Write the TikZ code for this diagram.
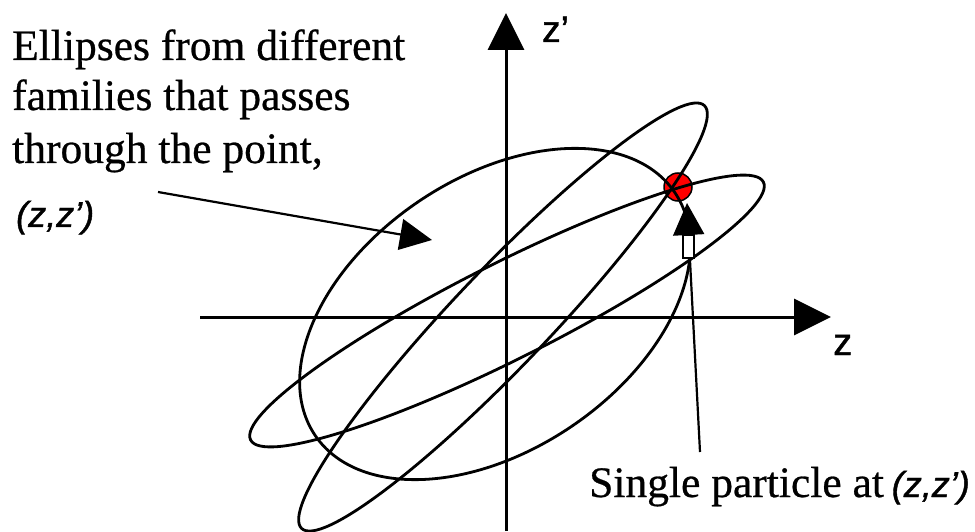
\documentclass[tikz,border=0pt]{standalone}
\usepackage{fontspec}
\setmainfont[FakeBold=0.6]{Liberation Serif}
\newfontfamily\axisfont[FakeBold=1.2]{Liberation Sans}
\usetikzlibrary{arrows.meta}
\tikzset{
  axisline/.style={line width=3pt, -{Triangle[length=37pt,width=36pt]}},
  orbit/.style={line width=2.8pt},
  pointer/.style={line width=2.2pt, -{Triangle[length=32pt,width=31pt]}},
  bodytext/.style={anchor=base west, inner sep=0pt, font=\fontsize{43.5}{51.5}\selectfont},
  coordtext/.style={anchor=base west, inner sep=0pt, font=\axisfont\itshape\fontsize{36}{40}\selectfont},
  axlabel/.style={inner sep=0pt, font=\axisfont\fontsize{38}{40}\selectfont}
}
\begin{document}
\begin{tikzpicture}[x=1pt,y=1pt]
\useasboundingbox (0,0) rectangle (975,531);
% axes
\coordinate (zl) at (200,214);
\coordinate (zr) at (831,214);
\coordinate (vb) at (506,0);
\coordinate (vt) at (506,518);
\draw[axisline] (zl) -- (zr);
\draw[axisline] (vb) -- (vt);
\node[axlabel, anchor=base west] (zlab) at (833,176) {z};
\node[axlabel, anchor=base west, font=\axisfont\fontsize{37}{40}\selectfont] (zplab) at (542,489) {z’};
% particle
\node[circle, fill=red, draw=black, line width=1.5pt, minimum size=28pt, inner sep=0pt] (particle) at (678,344) {};
% ellipses
\draw[orbit, rotate around={34:(495,217)}] (495,217) ellipse [x radius=217, y radius=136];
\draw[orbit, rotate around={46.4:(503,214)}] (503,214) ellipse [x radius=292, y radius=48];
\draw[orbit, rotate around={26.7:(507,220)}] (507,220) ellipse [x radius=287, y radius=48];
% texts
\node[bodytext] (t1) at (12,471) {Ellipses from different};
\node[bodytext] (t2) at (12,421) {families that passes};
\node[bodytext] (t3) at (12,368) {through the point,};
\node[coordtext] (t4) at (16,304) {(z,z’)};
\node[bodytext] (s1) at (589,34) {Single particle at \hspace{-3pt}{\axisfont\itshape\fontsize{36}{40}\selectfont (z,z’)}};
% pointers
\coordinate (p1s) at (158,339);
\coordinate (p1e) at (432,291);
\draw[pointer] (p1s) -- (p1e);
\coordinate (p2s) at (700,79);
\coordinate (p2e) at (687,328);
\draw[pointer] (p2s) -- (p2e);
\draw[fill=white, line width=1.5pt] (683,273) rectangle (694,296);
\end{tikzpicture}
\end{document}
